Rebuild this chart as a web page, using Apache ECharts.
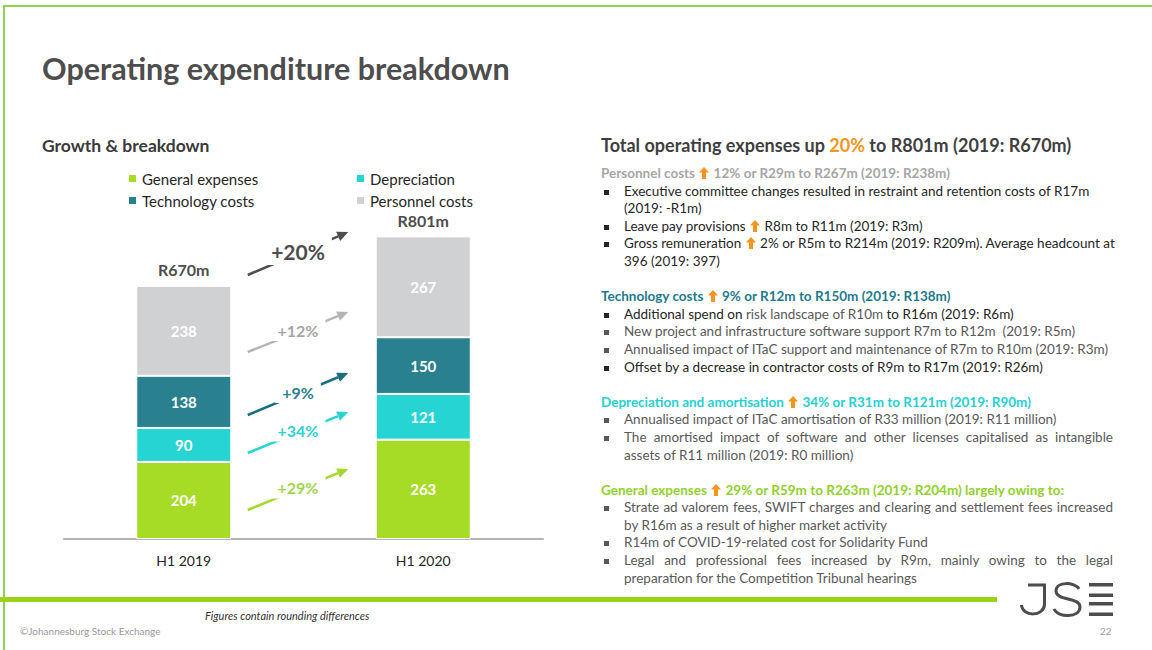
<!DOCTYPE html>
<html>
<head>
    <meta charset="UTF-8">
    <title>Operating expenditure breakdown</title>
    <script src="https://cdn.jsdelivr.net/npm/echarts@6/dist/echarts.min.js"></script>
    <style>
        html, body { margin: 0; padding: 0; width: 1152px; height: 650px; overflow: hidden; background: #fff; }
        body { position: relative; font-family: Lato, "Open Sans", sans-serif; }
        #main { position: absolute; left: 0; top: 0; width: 1152px; height: 650px; }
        .abs { position: absolute; }
        .frame-top { left: 3px; top: 5px; width: 1149px; height: 2px; background: #92d050; }
        .frame-left { left: 3px; top: 5px; width: 2px; height: 645px; background: #92d050; }
        .title { left: 42px; top: 50px; font-size: 30.5px; font-weight: bold; color: #4d4d4d; white-space: nowrap; }
        .panel { left: 601px; top: 133px; width: 512px; color: #262626; font-size: 13.5px; }
        .panel .head { font-size: 18px; font-weight: bold; color: #3f3f3f; height: 32px; line-height: 24px; white-space: nowrap; }
        .panel .ln { height: 17.6px; line-height: 17.6px; white-space: nowrap; position: relative; }
        .panel .sub { font-weight: bold; }
        .panel .b, .panel .c { padding-left: 23px; }
        .panel .b::before { content: ""; position: absolute; left: 3px; top: 7px; width: 5px; height: 5px; background: currentColor; }
        .panel .j { text-align: justify; text-align-last: justify; }
        .panel .gap { height: 17.6px; }
        .gr { color: #595959; }
        .up { display: inline-block; width: 10px; height: 12px; vertical-align: -1px; margin: 0 1px; }
        .footer-bar { left: 0; top: 597px; width: 997px; height: 5px; background: #9cd11a; }
        .note { left: 205px; top: 609px; font-size: 11px; font-style: italic; color: #333; }
        .copy { left: 20px; top: 625px; font-size: 10px; color: #999; }
        .page { left: 1100px; top: 625px; font-size: 10px; color: #999; }
        .logo { left: 1015px; top: 578px; }
    </style>
</head>
<body>
    <div id="main"></div>

    <div class="abs frame-top"></div>
    <div class="abs frame-left"></div>
    <div class="abs title">Operating expenditure breakdown</div>

    <div class="abs panel">
        <div class="head">Total operating expenses up <span style="color:#f7941d">20%</span> to R801m (2019: R670m)</div>

        <div class="ln sub" style="color:#a6a6a6">Personnel costs <svg class="up" viewBox="0 0 10 12"><path d="M5 0 L10 5.5 L7 5.5 L7 12 L3 12 L3 5.5 L0 5.5 Z" fill="#f7941d"/></svg> 12% or R29m to R267m (2019: R238m)</div>
        <div class="ln b">Executive committee changes resulted in restraint and retention costs of R17m</div>
        <div class="ln c">(2019: -R1m)</div>
        <div class="ln b">Leave pay provisions <svg class="up" viewBox="0 0 10 12"><path d="M5 0 L10 5.5 L7 5.5 L7 12 L3 12 L3 5.5 L0 5.5 Z" fill="#f7941d"/></svg> R8m to R11m (2019: R3m)</div>
        <div class="ln b">Gross remuneration <svg class="up" viewBox="0 0 10 12"><path d="M5 0 L10 5.5 L7 5.5 L7 12 L3 12 L3 5.5 L0 5.5 Z" fill="#f7941d"/></svg> 2% or R5m to R214m (2019: R209m). Average headcount at</div>
        <div class="ln c">396 (2019: 397)</div>
        <div class="gap"></div>

        <div class="ln sub" style="color:#1f7a8c">Technology costs <svg class="up" viewBox="0 0 10 12"><path d="M5 0 L10 5.5 L7 5.5 L7 12 L3 12 L3 5.5 L0 5.5 Z" fill="#f7941d"/></svg> 9% or R12m to R150m (2019: R138m)</div>
        <div class="ln b">Additional spend on <span class="gr">risk landscape of R10m</span> to R16m (2019: R6m)</div>
        <div class="ln b gr">New project and infrastructure software support R7m to R12m&nbsp; (2019: R5m)</div>
        <div class="ln b gr">Annualised impact of ITaC support and maintenance of R7m to R10m (2019: R3m)</div>
        <div class="ln b">Offset by a decrease in contractor costs of R9m to R17m (2019: R26m)</div>
        <div class="gap"></div>

        <div class="ln sub" style="color:#26cfd2">Depreciation and amortisation <svg class="up" viewBox="0 0 10 12"><path d="M5 0 L10 5.5 L7 5.5 L7 12 L3 12 L3 5.5 L0 5.5 Z" fill="#f7941d"/></svg> 34% or R31m to R121m (2019: R90m)</div>
        <div class="ln b gr">Annualised impact of ITaC amortisation of R33 million (2019: R11 million)</div>
        <div class="ln b gr j">The amortised impact of software and other licenses capitalised as intangible</div>
        <div class="ln c gr">assets of R11 million (2019: R0 million)</div>
        <div class="gap"></div>

        <div class="ln sub" style="color:#92d02c">General expenses <svg class="up" viewBox="0 0 10 12"><path d="M5 0 L10 5.5 L7 5.5 L7 12 L3 12 L3 5.5 L0 5.5 Z" fill="#f7941d"/></svg> 29% or R59m to R263m (2019: R204m) largely owing to:</div>
        <div class="ln b gr j">Strate ad valorem fees, SWIFT charges and clearing and settlement fees increased</div>
        <div class="ln c gr">by R16m as a result of higher market activity</div>
        <div class="ln b gr">R14m of COVID-19-related cost for Solidarity Fund</div>
        <div class="ln b gr j">Legal and professional fees increased by R9m, mainly owing to the legal</div>
        <div class="ln c gr">preparation for the Competition Tribunal hearings</div>
    </div>

    <div class="abs footer-bar"></div>
    <div class="abs note">Figures contain rounding differences</div>
    <div class="abs copy">©Johannesburg Stock Exchange</div>
    <div class="abs page">22</div>
    <svg class="abs logo" width="100" height="45" viewBox="0 0 100 45">
        <g fill="none" stroke="#4d4d4d" stroke-width="3">
            <path d="M13 7 L31 7 M29.5 7 L29.5 26 C29.5 39 7 39 6.5 27"/>
            <path d="M64 11 C60 4 41 3 41 13 C41 23 65 19 65 29 C65 40 43 40 39 31"/>
        </g>
        <g fill="#4d4d4d">
            <rect x="74" y="5" width="24" height="3.5"/>
            <rect x="74" y="15.5" width="24" height="3.5"/>
            <rect x="74" y="24" width="24" height="3.5"/>
            <rect x="74" y="34.5" width="24" height="3.5"/>
        </g>
    </svg>

    <script type="text/javascript">
        // data (R million)
        var categories = ['H1 2019', 'H1 2020'];
        var generalExpenses = [204, 263];
        var depreciation = [90, 121];
        var technologyCosts = [138, 150];
        var personnelCosts = [238, 267];
        var totalLabels = ['R670m', 'R801m'];
        var growthLabels = ['+29%', '+34%', '+9%', '+12%', '+20%'];

        var myChart = echarts.init(document.getElementById('main'), null, {renderer: 'svg'});

        var segLabel = {
            show: true,
            position: 'inside',
            color: '#fff',
            fontSize: 15,
            fontWeight: 'bold',
            fontFamily: 'Lato'
        };

        function seg(name, data, color) {
            return {
                name: name,
                type: 'bar',
                stack: 'total',
                barWidth: 95,
                data: data,
                itemStyle: {color: color, borderColor: '#fff', borderWidth: 1},
                label: segLabel
            };
        }

        var legendBase = {
            orient: 'vertical',
            top: 171,
            padding: 0,
            itemGap: 7,
            itemWidth: 9,
            itemHeight: 9,
            icon: 'rect',
            textStyle: {fontSize: 15, color: '#262626', fontFamily: 'Lato', lineHeight: 14}
        };

        var option = {
            animation: false,
            title: {
                text: 'Growth & breakdown',
                left: 42,
                top: 136,
                padding: 0,
                textStyle: {fontSize: 17.5, fontWeight: 'bold', color: '#3a3a3a', fontFamily: 'Lato'}
            },
            legend: [
                echarts.util.merge({data: ['General expenses', 'Technology costs'], left: 127}, legendBase),
                echarts.util.merge({data: ['Depreciation', 'Personnel costs'], left: 355}, legendBase)
            ],
            grid: {left: 64, right: 609, top: 199, bottom: 111},
            xAxis: {
                type: 'category',
                data: categories,
                axisLine: {lineStyle: {color: '#b5b5b5', width: 2}},
                axisTick: {show: false},
                axisLabel: {color: '#262626', fontSize: 14, margin: 14, fontFamily: 'Lato'}
            },
            yAxis: {type: 'value', min: 0, max: 900, show: false},
            series: [
                seg('General expenses', generalExpenses, '#a6dc26'),
                seg('Depreciation', depreciation, '#27d4d4'),
                seg('Technology costs', technologyCosts, '#29808f'),
                seg('Personnel costs', personnelCosts, '#d0d1d3'),
                {
                    name: 'Total',
                    type: 'bar',
                    stack: 'total',
                    barWidth: 95,
                    data: [0, 0],
                    itemStyle: {color: 'transparent'},
                    label: {
                        show: true,
                        position: 'top',
                        distance: 8,
                        color: '#4d4d4d',
                        fontSize: 16,
                        fontWeight: 'bold',
                        fontFamily: 'Lato',
                        formatter: function (p) { return totalLabels[p.dataIndex]; }
                    }
                }
            ]
        };

        myChart.setOption(option);

        // growth arrows between the two bars
        var p0 = myChart.convertToPixel({gridIndex: 0}, [0, 0]);
        var p1 = myChart.convertToPixel({gridIndex: 0}, [1, 0]);
        var xs = p0[0] + 64, xe = p1[0] - 75;
        var arrows = [
            {y0: 510, y1: 469, line: '#a3d92c', text: '#a2d44a', size: 16},
            {y0: 453, y1: 412, line: '#27d4d4', text: '#2fd0d0', size: 16},
            {y0: 415, y1: 373, line: '#1b6e7c', text: '#2a7f8e', size: 16},
            {y0: 352, y1: 312, line: '#b5b5b5', text: '#a6a6a6', size: 16},
            {y0: 275, y1: 232, line: '#4d4d4d', text: '#4d4d4d', size: 21}
        ];
        var graphics = [];
        arrows.forEach(function (a, i) {
            var dx = xe - xs, dy = a.y1 - a.y0;
            var len = Math.sqrt(dx * dx + dy * dy);
            var ux = dx / len, uy = dy / len;
            var hl = 11, hw = 5;
            var bx = xe - ux * hl, by = a.y1 - uy * hl;
            graphics.push({
                type: 'line', z: 100,
                shape: {x1: xs, y1: a.y0, x2: bx, y2: by},
                style: {stroke: a.line, lineWidth: 2.5}
            });
            graphics.push({
                type: 'polygon', z: 100,
                shape: {points: [[xe, a.y1], [bx - uy * hw, by + ux * hw], [bx + uy * hw, by - ux * hw]]},
                style: {fill: a.line}
            });
            graphics.push({
                type: 'text', z: 101,
                x: (xs + xe) / 2, y: (a.y0 + a.y1) / 2 - 2,
                style: {
                    text: growthLabels[i],
                    fill: a.text,
                    fontSize: a.size,
                    fontWeight: 'bold',
                    fontFamily: 'Lato',
                    align: 'center',
                    verticalAlign: 'middle',
                    backgroundColor: '#fff',
                    padding: [3, 7]
                }
            });
        });
        myChart.setOption({graphic: graphics});
    </script>
</body>
</html>
